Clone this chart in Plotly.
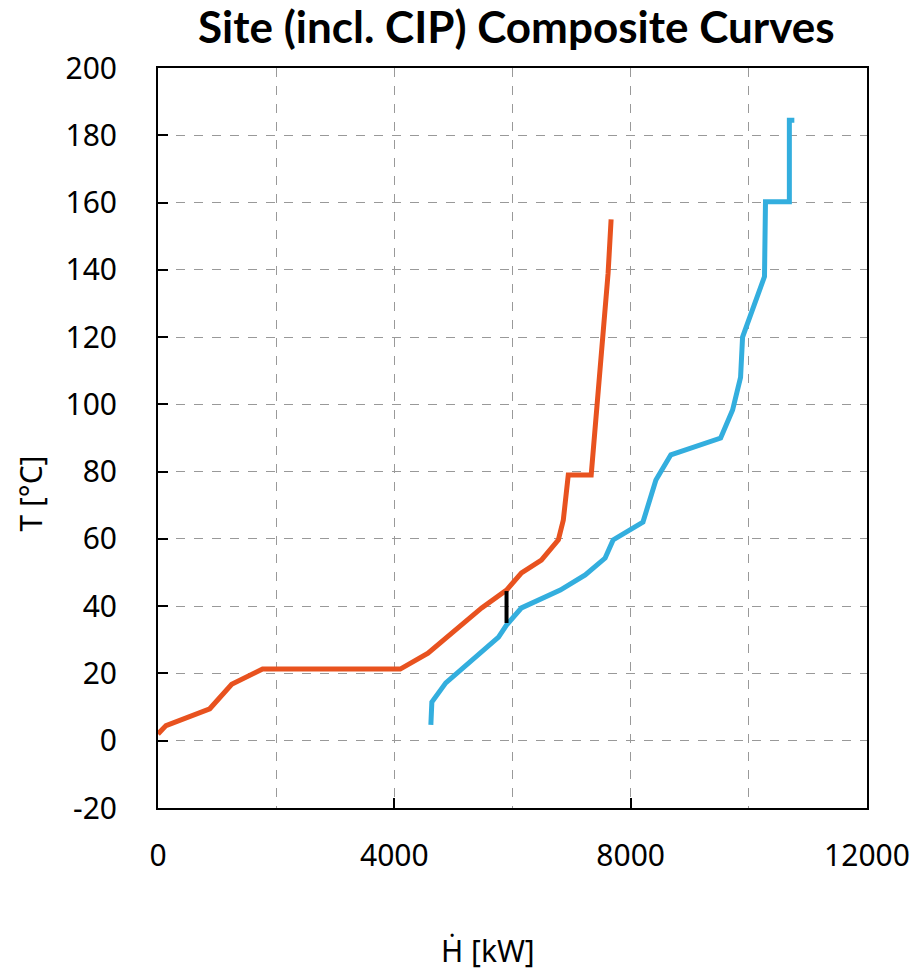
import plotly.graph_objects as go

# Hot composite curve (orange)
hot_H = [0, 135, 876, 1247, 1770, 4100, 4570, 5478, 5899, 6152, 6489, 6776, 6860, 6944, 7332, 7534, 7618, 7669]
hot_T = [2, 4.5, 9.5, 16.8, 21.3, 21.3, 26, 39.5, 44.8, 49.9, 53.7, 59.7, 65.6, 79, 79, 120, 139, 155]

# Cold composite curve (blue)
cold_H = [4618, 4635, 4871, 5377, 5764, 5899, 6152, 6809, 7231, 7568, 7703, 8208, 8427, 8680, 9523, 9725, 9860, 9894, 10265, 10282, 10686, 10686, 10770]
cold_T = [4.7, 11.5, 17.2, 24.9, 30.8, 34.4, 39.5, 44.8, 49.3, 54.3, 59.7, 65, 77.5, 85, 90, 98.3, 108, 120, 138, 160.2, 160.2, 184.5, 184.5]

# Pinch marker
pinch_H = [5899, 5899]
pinch_T = [35, 44.5]

x_ticks = [0, 4000, 8000, 12000]
y_ticks = [-20, 0, 20, 40, 60, 80, 100, 120, 140, 160, 180, 200]
y_ticklabels = ["-20", "0", "20", "40", "60", "80", "100", "120", "140", "160", "180", "200"]

fig = go.Figure()
fig.add_trace(go.Scatter(x=hot_H, y=hot_T, mode="lines",
                         line=dict(color="#E8521F", width=5), showlegend=False))
fig.add_trace(go.Scatter(x=cold_H, y=cold_T, mode="lines",
                         line=dict(color="#33AEDE", width=5), showlegend=False))
fig.add_trace(go.Scatter(x=pinch_H, y=pinch_T, mode="lines",
                         line=dict(color="black", width=4), showlegend=False))

tick_font = dict(family="Noto Sans, Open Sans, sans-serif", size=30, color="black")

fig.update_layout(
    width=922, height=974,
    margin=dict(l=158, r=52, t=68, b=166),
    paper_bgcolor="white", plot_bgcolor="white",
    title=dict(text="<b>Site (incl. CIP) Composite Curves</b>",
               font=dict(family="Lato, sans-serif", size=44, color="black"),
               x=0.56, xanchor="center", y=0.972, yanchor="middle", yref="container"),
    xaxis=dict(
        range=[0, 12000], tickvals=x_ticks, ticktext=[str(v) for v in x_ticks],
        ticks="inside", ticklen=10, tickwidth=2, tickcolor="black",
        showline=True, linecolor="black", linewidth=2, mirror=True,
        showgrid=True, gridcolor="#999999", griddash="dash", gridwidth=1,
        minor=dict(dtick=2000, showgrid=True, gridcolor="#999999", griddash="dash", gridwidth=1),
        tickfont=tick_font, ticklabelstandoff=20,
        zeroline=False,
    ),
    yaxis=dict(
        range=[-20, 200], tickvals=y_ticks, ticktext=y_ticklabels,
        ticks="inside", ticklen=10, tickwidth=2, tickcolor="black",
        showline=True, linecolor="black", linewidth=2, mirror=True,
        showgrid=True, gridcolor="#999999", griddash="dash", gridwidth=1,
        tickfont=tick_font, ticklabelstandoff=33,
        zeroline=False,
    ),
    annotations=[
        dict(text="Ḣ [kW]", xref="paper", yref="paper",
             x=(489 - 158) / 712, y=-(950 - 808) / 740,
             xanchor="center", yanchor="middle", showarrow=False, font=tick_font),
        dict(text="T [°C]", xref="paper", yref="paper",
             x=-(158 - 29) / 712, y=(808 - 494) / 740, textangle=-90,
             xanchor="center", yanchor="middle", showarrow=False, font=tick_font),
    ],
)

fig.write_html("out.html")
